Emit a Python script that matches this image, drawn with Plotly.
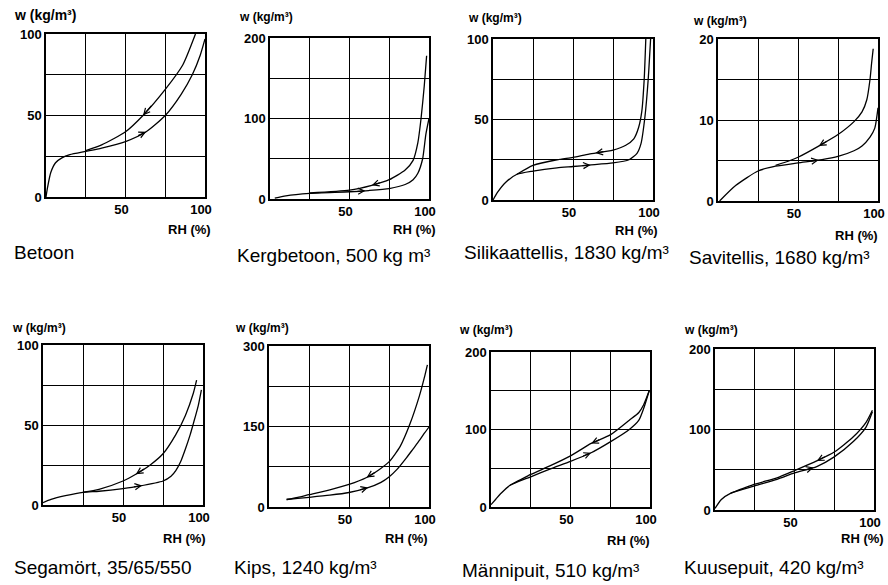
import numpy as np
import plotly.graph_objects as go

W, H = 888, 585

# ---------------- data (RH %, w kg/m3) ----------------
titles = ["Betoon", "Kergbetoon, 500 kg m³", "Silikaattellis, 1830 kg/m³",
          "Savitellis, 1680 kg/m³", "Segamört, 35/65/550", "Kips, 1240 kg/m³",
          "Männipuit, 510 kg/m³", "Kuusepuit, 420 kg/m³"]
y_max = [100, 200, 100, 20, 100, 300, 200, 200]
y_tick_labels = [["0", "", "50", "", "100"], ["0", "", "100", "", "200"],
                 ["0", "", "50", "", "100"], ["0", "", "10", "", "20"],
                 ["0", "", "50", "", "100"], ["0", "", "150", "", "300"],
                 ["0", "", "100", "", "200"], ["0", "", "100", "", "200"]]
x_tick_labels = ["", "", "50", "", "100"]

betoon_ads_rh = [0, 1, 3, 6, 10, 15, 25, 35, 50, 63, 75, 85, 92, 97, 100]
betoon_ads_w = [0, 6, 15, 21, 24, 26, 28, 30, 34, 40, 50, 63, 75, 87, 97]
betoon_des_rh = [25, 35, 50, 61, 75, 86, 94]
betoon_des_w = [28.5, 32, 40, 50, 66, 81, 100]

kerg_ads_rh = [3, 10, 25, 50, 62, 75, 85, 90, 93, 96, 98, 100]
kerg_ads_w = [1, 4, 7, 9, 10.5, 13, 18, 24, 32, 50, 80, 100]
kerg_des_rh = [25, 50, 64, 75, 85, 90, 93, 95, 97, 98.5]
kerg_des_w = [7.5, 11, 17, 24, 36, 48, 70, 100, 140, 178]

silik_ads_rh = [0, 3, 8, 15, 25, 40, 50, 60, 75, 85, 90, 92.5, 95, 97, 98.5]
silik_ads_w = [0, 5, 11, 16, 18, 20, 20.8, 21.7, 23, 25, 29, 35, 52, 75, 100]
silik_des_rh = [15, 25, 40, 50, 60, 75, 83, 88, 91, 93, 94.5, 95.5]
silik_des_w = [16, 21.5, 25, 26.5, 28.5, 31, 34, 38, 45, 55, 75, 100]

savi_ads_rh = [1, 11, 25, 36, 50, 65, 75, 85, 90, 95, 98, 100]
savi_ads_w = [0, 1.9, 3.7, 4.3, 4.7, 5.1, 5.5, 6.2, 6.8, 7.9, 9, 11.5]
savi_des_rh = [36, 45, 50, 64, 75, 85, 90, 93, 95, 96, 97]
savi_des_w = [4.4, 5.0, 5.4, 6.9, 8.2, 9.8, 11, 12.5, 15, 17, 18.8]

sega_ads_rh = [0, 5, 14, 25, 35, 50, 60, 75, 80, 83, 86, 89, 92, 94, 97, 99]
sega_ads_w = [1.5, 3.5, 5.8, 7.9, 8.6, 10.3, 11.8, 15, 18, 21.5, 27, 35, 44, 51, 62, 72]
sega_des_rh = [25, 35, 50, 58, 67, 75, 83, 89, 94, 96]
sega_des_w = [8, 9.8, 15, 19.2, 25, 32, 44, 56, 70, 78]

kips_ads_rh = [11, 18, 25, 38, 50, 61, 70, 75, 80, 86, 90, 94, 97, 100]
kips_ads_w = [14, 16, 18, 22, 27, 35, 46, 56, 70, 92, 108, 124, 137, 149]
kips_des_rh = [11, 18, 25, 38, 50, 61, 69, 75, 82, 88, 94, 97, 99]
kips_des_w = [14, 18, 23, 32, 42, 55, 70, 84, 113, 154, 207, 240, 265]

manni_ads_rh = [0, 3, 6, 12, 25, 37, 50, 63, 75, 87, 93, 96, 99.5]
manni_ads_w = [3, 10, 17, 28, 39, 49, 59, 70, 84, 100, 112, 127, 150]
manni_des_rh = [12, 25, 37, 50, 63, 75, 87, 93, 96, 99.5]
manni_des_w = [28, 42, 53, 66, 82, 93, 112, 122, 132, 150]

kuuse_ads_rh = [0, 4, 10, 25, 39, 50, 64, 75, 87, 95, 99]
kuuse_ads_w = [2, 13, 21, 30, 38, 46, 54, 66, 85, 103, 122]
kuuse_des_rh = [10, 25, 39, 50, 64, 75, 87, 95, 99]
kuuse_des_w = [21, 32, 40, 49, 61, 72, 91, 109, 124]

ads_arrow_rh = [63, 60, 61, 63, 62, 62, 63, 62]
des_arrow_rh = [61, 64, 64, 63, 58, 61, 63, 64]

curves = [
    (betoon_ads_rh, betoon_ads_w, betoon_des_rh, betoon_des_w),
    (kerg_ads_rh, kerg_ads_w, kerg_des_rh, kerg_des_w),
    (silik_ads_rh, silik_ads_w, silik_des_rh, silik_des_w),
    (savi_ads_rh, savi_ads_w, savi_des_rh, savi_des_w),
    (sega_ads_rh, sega_ads_w, sega_des_rh, sega_des_w),
    (kips_ads_rh, kips_ads_w, kips_des_rh, kips_des_w),
    (manni_ads_rh, manni_ads_w, manni_des_rh, manni_des_w),
    (kuuse_ads_rh, kuuse_ads_w, kuuse_des_rh, kuuse_des_w),
]

# ---------------- layout (pixels) ----------------
# plot boxes: left, top, right, bottom
boxes = [(46, 34, 205, 197), (270, 38, 429, 199), (493, 39, 653, 200), (718, 39, 878, 201),
         (43, 345, 203, 505), (269, 346, 429, 507), (491, 352, 650, 507), (715, 349, 874, 510)]
wlabel_pos = [(12, 15), (237, 17), (466, 18), (691, 21),
              (10, 328), (233, 328), (457, 330), (682, 330)]
rh_pos = [(213, 230), (438, 230), (660, 231), (880, 235),
          (208, 538), (430, 538), (652, 540), (886, 538)]
title_pos = [(12, 252), (235, 255), (462, 252), (687, 257),
             (12, 567), (232, 567), (460, 570), (682, 567)]

FONT = "Liberation Sans, Arial, sans-serif"

fig = go.Figure()
annotations = []
line_style = dict(color="black", width=1.3, shape="spline", smoothing=0.6)

for i in range(8):
    n = i + 1
    xs = f"x{n}"
    ys = f"y{n}"
    l, t, r, b = boxes[i]
    a_x, a_y, d_x, d_y = curves[i]
    fig.add_trace(go.Scatter(x=a_x, y=a_y, mode="lines", line=line_style,
                             xaxis=xs, yaxis=ys, showlegend=False, hoverinfo="skip"))
    fig.add_trace(go.Scatter(x=d_x, y=d_y, mode="lines", line=line_style,
                             xaxis=xs, yaxis=ys, showlegend=False, hoverinfo="skip"))

    ym = y_max[i]
    axis_common = dict(showline=True, mirror=True, linecolor="black", linewidth=1.5,
                       showgrid=True, gridcolor="black", gridwidth=1, zeroline=False,
                       ticks="", fixedrange=True, automargin=False,
                       tickfont=dict(family=FONT, size=13, color="black", weight="bold"))
    fig.layout[f"xaxis{n}"] = dict(domain=[l / W, r / W], anchor=ys, range=[0, 100],
                                   tickmode="array", tickvals=[0, 25, 50, 75, 100],
                                   ticktext=x_tick_labels, ticklabelshift=-4,
                                   ticklabeloverflow="allow", **axis_common)
    fig.layout[f"yaxis{n}"] = dict(domain=[1 - b / H, 1 - t / H], anchor=xs, range=[0, ym],
                                   tickmode="array",
                                   tickvals=[0, ym / 4, ym / 2, 3 * ym / 4, ym],
                                   ticktext=y_tick_labels[i], **axis_common)

    # hysteresis direction arrows
    ax0 = ads_arrow_rh[i]
    span = 6
    annotations.append(dict(x=ax0, y=float(np.interp(ax0, a_x, a_y)),
                            ax=ax0 - span, ay=float(np.interp(ax0 - span, a_x, a_y)),
                            xref=xs, yref=ys, axref=xs, ayref=ys, text="",
                            showarrow=True, arrowhead=5, arrowsize=1.0, arrowwidth=1.2,
                            arrowcolor="black"))
    dx0 = des_arrow_rh[i]
    annotations.append(dict(x=dx0, y=float(np.interp(dx0, d_x, d_y)),
                            ax=dx0 + span, ay=float(np.interp(dx0 + span, d_x, d_y)),
                            xref=xs, yref=ys, axref=xs, ayref=ys, text="",
                            showarrow=True, arrowhead=5, arrowsize=1.0, arrowwidth=1.2,
                            arrowcolor="black"))

    wx, wy = wlabel_pos[i]
    annotations.append(dict(text="w (kg/m³)", xref="paper", yref="paper",
                            x=wx / W, y=1 - wy / H, xanchor="left", yanchor="middle",
                            showarrow=False,
                            font=dict(family=FONT, size=14 if i == 0 else 12,
                                      color="black", weight="bold")))
    rx, ry = rh_pos[i]
    annotations.append(dict(text="RH (%)", xref="paper", yref="paper",
                            x=rx / W, y=1 - ry / H, xanchor="right", yanchor="middle",
                            showarrow=False,
                            font=dict(family=FONT, size=13, color="black", weight="bold")))
    tx, ty = title_pos[i]
    annotations.append(dict(text=titles[i], xref="paper", yref="paper",
                            x=tx / W, y=1 - ty / H, xanchor="left", yanchor="middle",
                            showarrow=False,
                            font=dict(family=FONT, size=19, color="black")))

fig.update_layout(width=W, height=H, margin=dict(l=0, r=0, t=0, b=0, pad=0),
                  paper_bgcolor="white", plot_bgcolor="white",
                  annotations=annotations, showlegend=False)

fig.write_html("out.html", config={"displayModeBar": False},
               post_script="document.body.style.margin='0px';"
                           "document.body.style.overflow='hidden';")
